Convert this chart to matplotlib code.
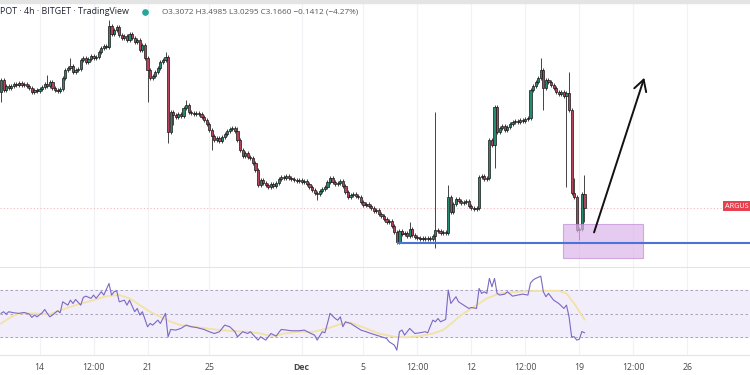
#Chart recreation: 4h candles with RSI pane
import matplotlib
matplotlib.use("Agg")
import matplotlib.pyplot as plt
from matplotlib.patches import Rectangle
import numpy as np
import pandas as pd

plt.rcParams['font.family'] = ['Open Sans', 'DejaVu Sans']

#Data
first_bar = "2022-11-11 12:00"
bar_hours = 4
first_open = 4.33
closes = [
	4.45, 4.35, 4.39, 4.37, 4.39, 4.41, 4.40, 4.42, 4.40, 4.41,   # 0
	4.39, 4.37, 4.33, 4.35, 4.34, 4.36, 4.38, 4.41, 4.39, 4.43,   # 10
	4.37, 4.35, 4.34, 4.36, 4.47, 4.55, 4.57, 4.59, 4.53, 4.55,   # 20
	4.56, 4.65, 4.67, 4.63, 4.66, 4.69, 4.67, 4.68, 4.73, 4.77,   # 30
	4.79, 4.78, 4.99, 4.91, 4.95, 4.98, 4.90, 4.87, 4.89, 4.85,   # 40
	4.91, 4.87, 4.83, 4.85, 4.75, 4.80, 4.67, 4.55, 4.47, 4.49,   # 50
	4.53, 4.57, 4.63, 4.65, 4.68, 3.93, 4.13, 4.10, 4.08, 4.11,   # 60
	4.09, 4.17, 4.20, 4.13, 4.12, 4.11, 4.12, 4.11, 4.08, 4.05,   # 70
	4.01, 3.95, 3.89, 3.85, 3.87, 3.84, 3.88, 3.91, 3.94, 3.96,   # 80
	3.97, 3.94, 3.85, 3.75, 3.69, 3.72, 3.68, 3.67, 3.62, 3.55,   # 90
	3.40, 3.45, 3.42, 3.40, 3.38, 3.41, 3.39, 3.42, 3.46, 3.48,   # 100
	3.47, 3.49, 3.47, 3.46, 3.45, 3.44, 3.45, 3.43, 3.44, 3.41,   # 110
	3.38, 3.35, 3.32, 3.31, 3.34, 3.36, 3.38, 3.43, 3.47, 3.43,   # 120
	3.41, 3.42, 3.44, 3.39, 3.33, 3.28, 3.30, 3.31, 3.29, 3.28,   # 130
	3.23, 3.20, 3.21, 3.19, 3.17, 3.14, 3.15, 3.11, 3.09, 3.06,   # 140
	3.03, 3.04, 2.99, 2.93, 2.83, 2.94, 2.91, 2.92, 2.89, 2.96,   # 150
	2.90, 2.88, 2.87, 2.86, 2.87, 2.86, 2.87, 2.86, 2.89, 2.95,   # 160
	2.94, 2.92, 2.93, 2.92, 3.28, 3.13, 3.21, 3.26, 3.24, 3.22,   # 170
	3.23, 3.24, 3.19, 3.17, 3.16, 3.17, 3.48, 3.49, 3.46, 3.47,   # 180
	3.85, 3.80, 4.18, 3.93, 3.97, 3.99, 3.95, 3.98, 4.01, 4.03,   # 190
	4.04, 4.03, 4.05, 4.04, 4.06, 4.07, 4.35, 4.39, 4.43, 4.47,   # 200
	4.55, 4.37, 4.45, 4.43, 4.40, 4.37, 4.33, 4.31, 4.33, 4.29,   # 210
	4.32, 4.15, 3.32, 3.28, 2.95, 2.96, 3.31, 3.17,               # 220
]
#only the wicks that stick out
wick_highs = {18: 4.50, 27: 4.67, 42: 5.05, 64: 4.73, 72: 4.25, 92: 3.98,
	159: 3.03, 169: 4.13, 174: 3.40, 210: 4.67, 221: 4.53, 223: 3.47, 227: 3.50}
wick_lows = {0: 4.23, 57: 4.23, 65: 3.82, 67: 4.00, 82: 3.75, 123: 3.25,
	154: 2.81, 169: 2.77, 192: 3.57, 211: 4.15, 220: 3.38, 225: 2.85, 227: 3.03}

rsi_bars = [0, 1, 2, 3, 5, 7, 9, 11, 12, 13, 14, 16, 17, 18, 19, 20, 22, 23, 24, 26,
	27, 28, 29, 31, 32, 33, 35, 36, 37, 39, 40, 42, 43, 44, 45, 46, 48, 49, 50, 52,
	53, 54, 55, 57, 58, 59, 61, 62, 63, 64, 65, 66, 68, 70, 72, 74, 76, 79, 81, 83,
	85, 87, 89, 91, 92, 94, 96, 97, 100, 101, 103, 105, 107, 109, 111, 113, 116, 118, 120, 122,
	123, 125, 126, 127, 128, 130, 131, 132, 133, 134, 136, 138, 140, 142, 144, 146, 148, 150, 151, 153,
	154, 155, 156, 157, 158, 159, 161, 163, 165, 166, 168, 169, 170, 171, 173, 174, 175, 177, 178, 179,
	181, 182, 183, 185, 186, 187, 188, 189, 190, 191, 192, 193, 194, 196, 197, 199, 201, 203, 205, 206,
	207, 208, 210, 211, 212, 213, 215, 217, 219, 220, 221, 222, 223, 224, 225, 226, 227]
rsi_vals = [50.3, 51.7, 49.7, 51.7, 50.8, 50.3, 51.1, 49.7, 46.9, 48.9, 47.4, 50.8, 53.6, 50.3, 47.4, 48.9, 52.5, 50.8, 60.1, 57.3,
	61.5, 58.7, 62.1, 57.3, 63.8, 64.9, 63.0, 65.8, 63.0, 68.6, 65.8, 75.6, 65.8, 68.6, 69.4, 60.1, 61.5, 57.3, 61.5, 51.7,
	54.5, 48.9, 51.7, 39.0, 41.8, 40.4, 44.6, 41.8, 46.0, 50.3, 30.5, 36.7, 36.2, 37.6, 40.4, 39.0, 38.4, 36.7, 34.8, 33.3,
	34.8, 40.4, 39.0, 34.8, 30.5, 34.8, 33.3, 34.8, 27.7, 30.5, 27.7, 33.3, 31.1, 36.7, 36.2, 35.6, 35.6, 36.2, 33.9, 31.9,
	27.7, 34.8, 33.9, 41.8, 50.3, 46.0, 44.6, 47.4, 39.0, 43.2, 41.8, 39.0, 36.2, 34.8, 33.3, 31.9, 30.5, 29.1, 26.3, 23.5,
	19.2, 34.8, 36.2, 31.9, 34.8, 37.6, 33.3, 33.9, 34.8, 33.9, 44.6, 43.2, 46.0, 43.2, 45.2, 70.0, 58.7, 64.4, 60.1, 58.7,
	55.9, 54.5, 55.3, 54.5, 71.4, 67.2, 68.6, 67.2, 79.9, 72.8, 79.9, 67.2, 65.8, 66.6, 68.6, 64.9, 65.8, 66.6, 65.8, 76.0,
	78.5, 79.9, 81.8, 68.6, 64.4, 67.2, 61.5, 58.7, 54.5, 57.3, 47.4, 30.5, 30.5, 27.7, 28.5, 35.0, 33.9]

ma_bars = [0, 4, 7, 13, 19, 24, 29, 36, 41, 46, 50, 54, 58, 62, 66, 70, 75, 80, 85, 90,
	96, 101, 104, 107, 110, 116, 121, 127, 132, 136, 142, 147, 153, 158, 163, 168, 172, 176, 179, 182,
	185, 189, 194, 201, 207, 212, 217, 220, 223, 227]
ma_vals = [41.8, 47.4, 50.3, 50.3, 49.7, 53.6, 57.3, 61.5, 64.9, 65.8, 63.0, 57.3, 51.7, 47.4, 43.2, 40.4, 39.0, 37.6, 36.2, 35.3,
	34.8, 33.3, 31.6, 31.4, 33.3, 34.8, 34.5, 37.6, 41.2, 42.6, 37.6, 33.3, 30.5, 30.0, 31.1, 33.3, 36.2, 43.2, 48.9, 53.1,
	57.3, 63.0, 67.2, 68.6, 69.2, 69.4, 69.4, 67.2, 58.7, 45.2]

tick_times = ["2022-11-14", "2022-11-17 12:00", "2022-11-21", "2022-11-25", "2022-12-01", "2022-12-05",
	"2022-12-08 12:00", "2022-12-12", "2022-12-15 12:00", "2022-12-19", "2022-12-22 12:00", "2022-12-26"]
tick_labels = ["14", "12:00", "21", "25", "Dec", "5", "12:00", "12", "12:00", "19", "12:00", "26"]

last_price = 3.17
support_price = 2.82
support_from_bar = 154
zone_bars = (218.7, 249.8)
zone_prices = (2.67, 3.01)
arrow_from = (230.4, 2.90)
arrow_to = (250.6, 4.50)

#Building the candles
c = np.array(closes)
o = np.r_[first_open, c[:-1]]
x = np.arange(len(c))
h = np.maximum(o, c) + 0.02
l = np.minimum(o, c) - 0.02
for k, v in wick_highs.items():
	h[k] = v
for k, v in wick_lows.items():
	l[k] = v
up = c >= o

t0 = pd.Timestamp(first_bar)
tick_pos = [(pd.Timestamp(t) - t0) / pd.Timedelta(hours=bar_hours) for t in tick_times]

fig = plt.figure(figsize=(7.5, 3.75), dpi=100)
ax = fig.add_axes([0, 0.288, 1, 0.701])
rax = fig.add_axes([0, 0.053, 1, 0.232])

for a in (ax, rax):
	a.set_xlim(-0.4, 291.4)
	for s in a.spines.values():
		s.set_visible(False)
	a.spines["bottom"].set_visible(True)
	a.spines["bottom"].set_color("#e3e4ea")
	a.spines["bottom"].set_linewidth(0.8)
	for p in tick_pos:
		a.axvline(p, color="#f1f2f6", lw=0.8, zorder=0)
	a.set_yticks([])

ax.set_ylim(2.58, 5.21)
ax.set_xticks([])

ax.axhline(last_price, color="#f5b7be", lw=0.8, ls=(0, (1, 2)), zorder=1)
ax.vlines(x, l, h, color="#444444", lw=0.7, zorder=2)
ax.bar(x, np.maximum(np.abs(c - o), 0.008), bottom=np.minimum(o, c), width=0.85,
	color=np.where(up, "#268a72", "#b5445a"), edgecolor="#161616", linewidth=0.5, zorder=3)

#annotations drawn on the chart
ax.hlines(support_price, support_from_bar, 291.4, color="#4a72d8", lw=1.5, zorder=4)
ax.add_patch(Rectangle((zone_bars[0], zone_prices[0]), zone_bars[1] - zone_bars[0],
	zone_prices[1] - zone_prices[0], facecolor="#dcb6ea", edgecolor="#c38ad6", lw=0.8, alpha=0.7, zorder=3))
ax.annotate("", xy=arrow_to, xytext=arrow_from,
	arrowprops=dict(arrowstyle="->,head_length=0.8,head_width=0.45", color="#111111", lw=1.4), zorder=5)

#RSI pane
rax.set_ylim(15, 88.6)
rax.axhspan(30, 70, color="#f1edfb", zorder=0)
for lv in (70, 50, 30):
	rax.axhline(lv, color="#9a98b2", lw=0.6, ls=(0, (3, 3)), zorder=1)
rax.plot(ma_bars, ma_vals, color="#f2e2a4", lw=1.3, zorder=2)
rax.plot(rsi_bars, rsi_vals, color="#7b68c4", lw=0.8, zorder=3)
rax.set_xticks(tick_pos)
rax.set_xticklabels(tick_labels, fontsize=6.3, color="#4a4a4a")
rax.tick_params(axis="x", length=0, pad=6)
for lab in rax.get_xticklabels():
	if lab.get_text() == "Dec":
		lab.set_fontweight("bold")

#header and labels
fig.patches.append(Rectangle((0, 1 - 3 / 375), 1, 3 / 375, transform=fig.transFigure, color="#e4e4e4"))
fig.text(0, 1 - 12 / 375, "POT · 4h · BITGET · TradingView", fontsize=6.4, color="#1f2330", va="center")
ax.plot([145 / 750], [1 - 12 / 375], "o", ms=3.8, color="#26a69a", transform=fig.transFigure, clip_on=False)
fig.text(162 / 750, 1 - 12 / 375, "O3.3072 H3.4985 L3.0295 C3.1660 −0.1412 (−4.27%)", fontsize=5.9,
	color="#555555", va="center")
fig.text(725 / 750, 1 - 206 / 375, "ARGUS", fontsize=5.2, color="white", va="center",
	bbox=dict(boxstyle="square,pad=0.25", fc="#e8404f", ec="none"))

fig.savefig("out.png", dpi=100)
